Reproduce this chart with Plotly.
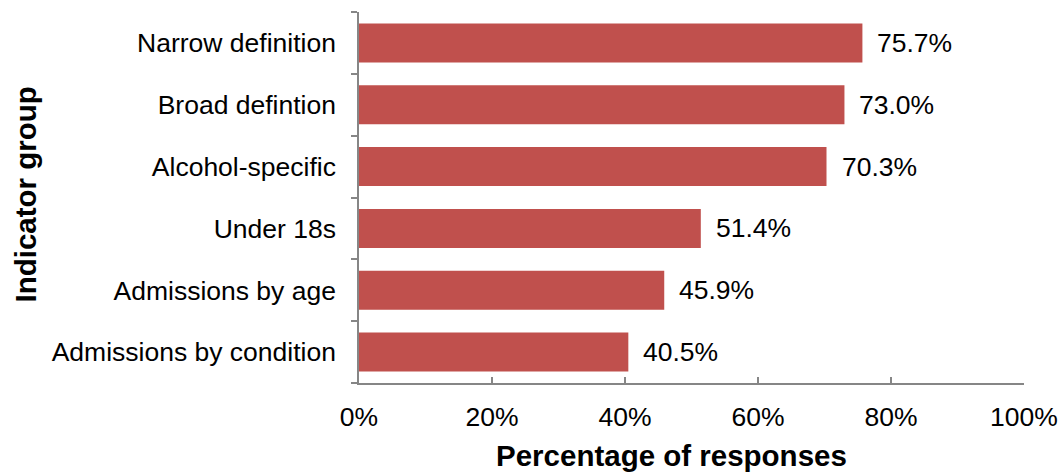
import plotly.graph_objects as go

categories = ["Admissions by condition", "Admissions by age", "Under 18s",
              "Alcohol-specific", "Broad defintion", "Narrow definition"]
values = [40.5, 45.9, 51.4, 70.3, 73.0, 75.7]
x_ticks = [0, 20, 40, 60, 80, 100]
x_tick_labels = ["0%", "20%", "40%", "60%", "80%", "100%"]

font_family = "Liberation Sans, Arial, sans-serif"

fig = go.Figure()
fig.add_trace(go.Bar(
    x=values, y=categories, orientation="h",
    marker=dict(color="#C0504D", line=dict(width=0)),
    hoverinfo="skip",
))
for v, c in zip(values, categories):
    fig.add_annotation(x=v, y=c, text=f"{v:.1f}%", showarrow=False,
                       xanchor="left", xshift=13,
                       font=dict(size=26.5, color="#000000", family=font_family))

# axis titles
fig.add_annotation(xref="paper", yref="paper", x=0.5, y=0, xanchor="center", yanchor="middle",
                   xshift=-20, yshift=-72, showarrow=False,
                   text="<b>Percentage of responses</b>",
                   font=dict(size=29.5, color="#000000", family=font_family))
fig.add_annotation(xref="paper", yref="paper", x=0, y=0.5, xanchor="center", yanchor="middle",
                   xshift=-334, yshift=3, showarrow=False, textangle=-90,
                   text="<b>Indicator group</b>",
                   font=dict(size=29.5, color="#000000", family=font_family))

fig.update_layout(
    width=1061, height=473,
    margin=dict(l=359, r=37, t=12, b=90),
    plot_bgcolor="white", paper_bgcolor="white",
    bargap=0.37, showlegend=False,
    font=dict(family=font_family, color="#000000"),
)
fig.update_xaxes(
    range=[0, 100], tickvals=x_ticks, ticktext=x_tick_labels,
    showgrid=False, zeroline=False, automargin=False,
    showline=True, linecolor="#868686", linewidth=1.5,
    ticks="inside", ticklen=6, tickcolor="#868686", tickwidth=1.5,
    tickfont=dict(size=26.5, color="#000000"), ticklabelstandoff=9,
)
fig.update_yaxes(
    categoryorder="array", categoryarray=categories,
    showgrid=False, zeroline=False, automargin=False,
    showline=True, linecolor="#868686", linewidth=1.5,
    ticks="outside", ticklen=6, tickcolor="#868686", tickwidth=1.5,
    tickson="boundaries",
    tickfont=dict(size=26.5, color="#000000"), ticklabelstandoff=16,
)
fig.write_html("out.html")
